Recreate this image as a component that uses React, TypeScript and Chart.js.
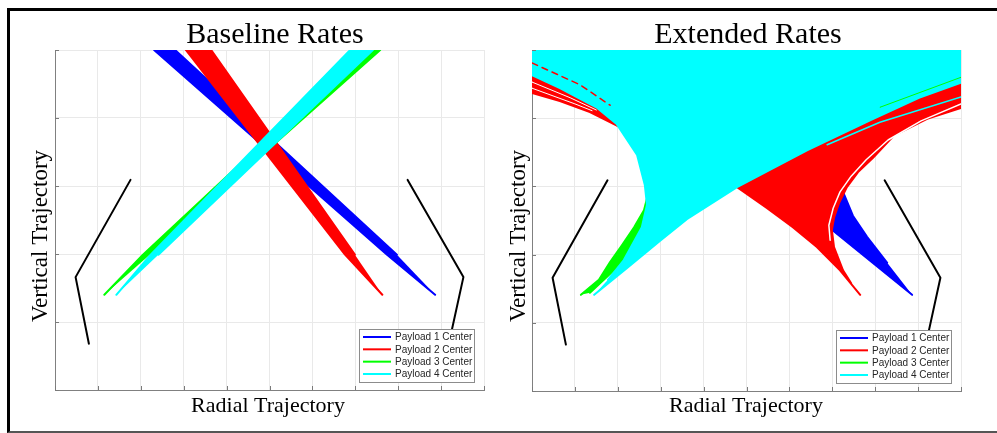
import React, { useEffect, useRef } from "react";
import { Chart, registerables } from "chart.js";

Chart.register(...registerables);

// ---------- axes ----------
const xGrid = [0, 1, 2, 3, 4, 5, 6, 7, 8, 9, 10];
const yGrid = [0, 1, 2, 3, 4, 5];

const legendLabels = ["Payload 1 Center", "Payload 2 Center", "Payload 3 Center", "Payload 4 Center"];
const payloadColors = ["#0000ff", "#ff0000", "#00ff00", "#00ffff"];

// ---------- black walls ----------
const leftWallX = [1.76, 0.48, 0.79];
const leftWallY = [3.09, 1.66, 0.68];
const rightWallX = [8.22, 9.52, 9.18];
const rightWallY = [3.09, 1.66, 0.68];

// ---------- baseline rates: band of straight trajectories (outline) ----------
const baseBandY = [1.4, 1.99, 5, 5, 1.99];
const baseBlueX = [8.86, 7.74, 2.31, 2.8, 7.97];
const baseRedX = [7.63, 6.76, 3.05, 3.64, 6.99];
const baseGreenX = [1.15, 2.05, 7.16, 7.58, 2.21];
const baseCyanX = [1.43, 2.23, 6.88, 7.41, 2.41];

// ---------- extended rates: swept regions of trajectories ----------
const extCyanX = [1.45, 2.21, 2.98, 3.61, 4.78, 6.41, 7.88, 9.02, 10, 10, 0, 0, 0.65, 1.52, 1.98, 2.45, 2.63, 2.68, 2.56, 2.14, 1.77];
const extCyanY = [1.41, 1.8, 2.2, 2.52, 2.99, 3.53, 3.97, 4.3, 4.52, 5, 5, 4.63, 4.44, 4.15, 3.91, 3.46, 3.02, 2.73, 2.4, 1.92, 1.63];

const extRedX = [7.65, 7.18, 6.64, 6.08, 5.48, 4.78, 3.45, 2.52, 1.98, 1.35, 0.65, 0, 0, 10, 10, 9.21, 8.44, 7.95, 7.6, 7.34, 7.16, 7.04, 6.99, 7.04, 7.25, 7.44];
const extRedY = [1.41, 1.77, 2.11, 2.4, 2.68, 2.99, 3.49, 3.77, 3.89, 4.09, 4.25, 4.37, 5, 5, 4.15, 3.99, 3.75, 3.42, 3.21, 2.99, 2.76, 2.54, 2.36, 2.11, 1.77, 1.58];

const extBlueX = [8.86, 7.02, 6.83, 6.95, 7.25, 7.48, 7.81, 8.28];
const extBlueY = [1.41, 2.35, 2.48, 2.95, 2.92, 2.57, 2.26, 1.88];

const extGreenX = [1.14, 1.56, 1.82, 2.1, 2.38, 2.61, 2.7, 2.75, 3.1, 2.28, 1.86, 1.35];
const extGreenY = [1.41, 1.63, 1.89, 2.14, 2.4, 2.65, 2.87, 3.17, 2.8, 1.99, 1.74, 1.44];

// individual stray trajectories / gaps
const whiteGapX = [6.95, 6.92, 7.02, 7.18, 7.44, 7.79, 8.3, 9.07, 10];
const whiteGapY = [2.21, 2.43, 2.68, 2.92, 3.15, 3.39, 3.68, 3.96, 4.21];
const cyanStrayX = [6.88, 8.11, 10];
const cyanStrayY = [3.61, 3.94, 4.31];
const greenStrayX = [8.11, 10];
const greenStrayY = [4.16, 4.6];
const redGap1X = [0, 0.89, 1.5];
const redGap1Y = [4.53, 4.3, 4.12];
const redGap2X = [0, 1.0, 1.4];
const redGap2Y = [4.44, 4.21, 4.11];
const redStrayX = [0, 1.12, 1.82];
const redStrayY = [4.81, 4.49, 4.19];

const pts = (xs: number[], ys: number[]) => xs.map((x, i) => ({ x, y: ys[i] }));

const wall = (xs: number[], ys: number[]) => ({
  data: pts(xs, ys),
  borderColor: "#000000",
  borderWidth: 2,
  fill: false,
});
const region = (xs: number[], ys: number[], color: string) => ({
  data: pts(xs, ys),
  borderColor: color,
  backgroundColor: color,
  borderWidth: 2,
  fill: "shape",
});
const stray = (xs: number[], ys: number[], color: string, w: number, dash?: number[]) => ({
  data: pts(xs, ys),
  borderColor: color,
  borderWidth: w,
  borderDash: dash || [],
  fill: false,
});

const decor = {
  id: "decor",
  afterDraw(chart: any, _args: any, o: any) {
    const { ctx, chartArea: a, scales } = chart;
    ctx.save();
    // inward tick marks
    ctx.strokeStyle = "#7a7a7a";
    ctx.lineWidth = 1;
    ctx.beginPath();
    for (const v of xGrid) {
      const px = Math.round(scales.x.getPixelForValue(v)) + 0.5;
      ctx.moveTo(px, a.bottom);
      ctx.lineTo(px, a.bottom - 4);
    }
    for (const v of yGrid) {
      const py = Math.round(scales.y.getPixelForValue(v)) + 0.5;
      ctx.moveTo(a.left, py);
      ctx.lineTo(a.left + 4, py);
    }
    ctx.stroke();

    // titles
    ctx.fillStyle = "#000";
    ctx.textAlign = "center";
    ctx.textBaseline = "alphabetic";
    ctx.font = '30px "Liberation Serif"';
    ctx.fillText(o.title, o.titleX, 43);
    ctx.font = '22px "Liberation Serif"';
    ctx.fillText("Radial Trajectory", o.xTitleX, 412);
    ctx.save();
    ctx.translate(o.yTitleX, 236);
    ctx.rotate(-Math.PI / 2);
    ctx.font = '23px "Liberation Serif"';
    ctx.fillText("Vertical Trajectory", 0, 0);
    ctx.restore();

    // legend
    const bw = 115;
    const bh = 53;
    const bx = Math.round(a.right - 10 - bw);
    const by = Math.round(a.bottom - 8 - bh);
    ctx.fillStyle = "#ffffff";
    ctx.fillRect(bx, by, bw, bh);
    ctx.strokeStyle = "#8c8c8c";
    ctx.lineWidth = 1;
    ctx.strokeRect(bx + 0.5, by + 0.5, bw, bh);
    ctx.font = '10px "Liberation Sans"';
    ctx.textAlign = "left";
    ctx.textBaseline = "middle";
    legendLabels.forEach((lab, i) => {
      const y = by + 8 + i * 12.33;
      ctx.strokeStyle = payloadColors[i];
      ctx.lineWidth = 2;
      ctx.beginPath();
      ctx.moveTo(bx + 4, y);
      ctx.lineTo(bx + 32, y);
      ctx.stroke();
      ctx.fillStyle = "#262626";
      ctx.fillText(lab, bx + 36, y + 0.5);
    });
    ctx.restore();
  },
};

type PanelCfg = {
  left: number;
  width: number;
  padRight: number;
  padBottom: number;
  title: string;
  titleX: number;
  xTitleX: number;
  yTitleX: number;
  datasets: any[];
};

function Panel({ cfg }: { cfg: PanelCfg }) {
  const ref = useRef<HTMLCanvasElement>(null);
  useEffect(() => {
    const n = cfg.datasets.length;
    const datasets = cfg.datasets.map((d, i) => ({
      pointRadius: 0,
      pointHoverRadius: 0,
      tension: 0,
      clip: 0,
      borderJoinStyle: "round",
      borderCapStyle: "round",
      order: n - i,
      ...d,
    }));
    const grid = { color: "#e9e9e9", lineWidth: 1, drawTicks: false };
    const chart = new Chart(ref.current as HTMLCanvasElement, {
      type: "line",
      data: { datasets },
      options: {
        responsive: false,
        animation: false,
        devicePixelRatio: 1,
        events: [],
        layout: { padding: { left: 55, top: 50, right: cfg.padRight, bottom: cfg.padBottom } },
        scales: {
          x: {
            type: "linear",
            min: 0,
            max: 10,
            ticks: { display: false, stepSize: 1 },
            grid,
            border: { display: true, color: "#808080", width: 1 },
          },
          y: {
            type: "linear",
            min: 0,
            max: 5,
            ticks: { display: false, stepSize: 1 },
            grid,
            border: { display: true, color: "#808080", width: 1 },
          },
        },
        plugins: {
          legend: { display: false },
          tooltip: { enabled: false },
          title: { display: false },
          decor: { title: cfg.title, titleX: cfg.titleX, xTitleX: cfg.xTitleX, yTitleX: cfg.yTitleX },
        } as any,
      } as any,
      plugins: [decor as any],
    });
    return () => chart.destroy();
  }, []);
  return (
    <canvas
      ref={ref}
      width={cfg.width}
      height={433}
      style={{ position: "absolute", left: cfg.left, top: 0, width: cfg.width, height: 433 }}
    />
  );
}

const baselinePanel: PanelCfg = {
  left: 0,
  width: 497,
  padRight: 13,
  padBottom: 43,
  title: "Baseline Rates",
  titleX: 275,
  xTitleX: 268,
  yTitleX: 47,
  datasets: [
    wall(leftWallX, leftWallY),
    wall(rightWallX, rightWallY),
    region(baseBlueX, baseBandY, payloadColors[0]),
    region(baseRedX, baseBandY, payloadColors[1]),
    region(baseGreenX, baseBandY, payloadColors[2]),
    region(baseCyanX, baseBandY, payloadColors[3]),
  ],
};

const extendedPanel: PanelCfg = {
  left: 477,
  width: 520,
  padRight: 36,
  padBottom: 42,
  title: "Extended Rates",
  titleX: 271,
  xTitleX: 269,
  yTitleX: 48,
  datasets: [
    wall(leftWallX, leftWallY),
    wall(rightWallX, rightWallY),
    region(extBlueX, extBlueY, payloadColors[0]),
    region(extRedX, extRedY, payloadColors[1]),
    region(extGreenX, extGreenY, payloadColors[2]),
    region(extCyanX, extCyanY, payloadColors[3]),
    stray(redStrayX, redStrayY, payloadColors[1], 1.5, [6, 5]),
    stray(greenStrayX, greenStrayY, payloadColors[2], 1),
    stray(cyanStrayX, cyanStrayY, payloadColors[3], 1.5),
    stray(whiteGapX, whiteGapY, "#ffffff", 1.5),
    stray(redGap1X, redGap1Y, "#ffffff", 1),
    stray(redGap2X, redGap2Y, "#ffffff", 1),
  ],
};

export default function App() {
  return (
    <div style={{ position: "fixed", left: 0, top: 0, width: 997, height: 433, background: "#ffffff", overflow: "hidden" }}>
      <div
        style={{
          position: "absolute",
          left: 7,
          top: 8,
          width: 1000,
          height: 425,
          boxSizing: "border-box",
          borderLeft: "3px solid #000",
          borderTop: "3px solid #000",
          borderBottom: "2px solid #555",
        }}
      />
      <Panel cfg={baselinePanel} />
      <Panel cfg={extendedPanel} />
    </div>
  );
}
